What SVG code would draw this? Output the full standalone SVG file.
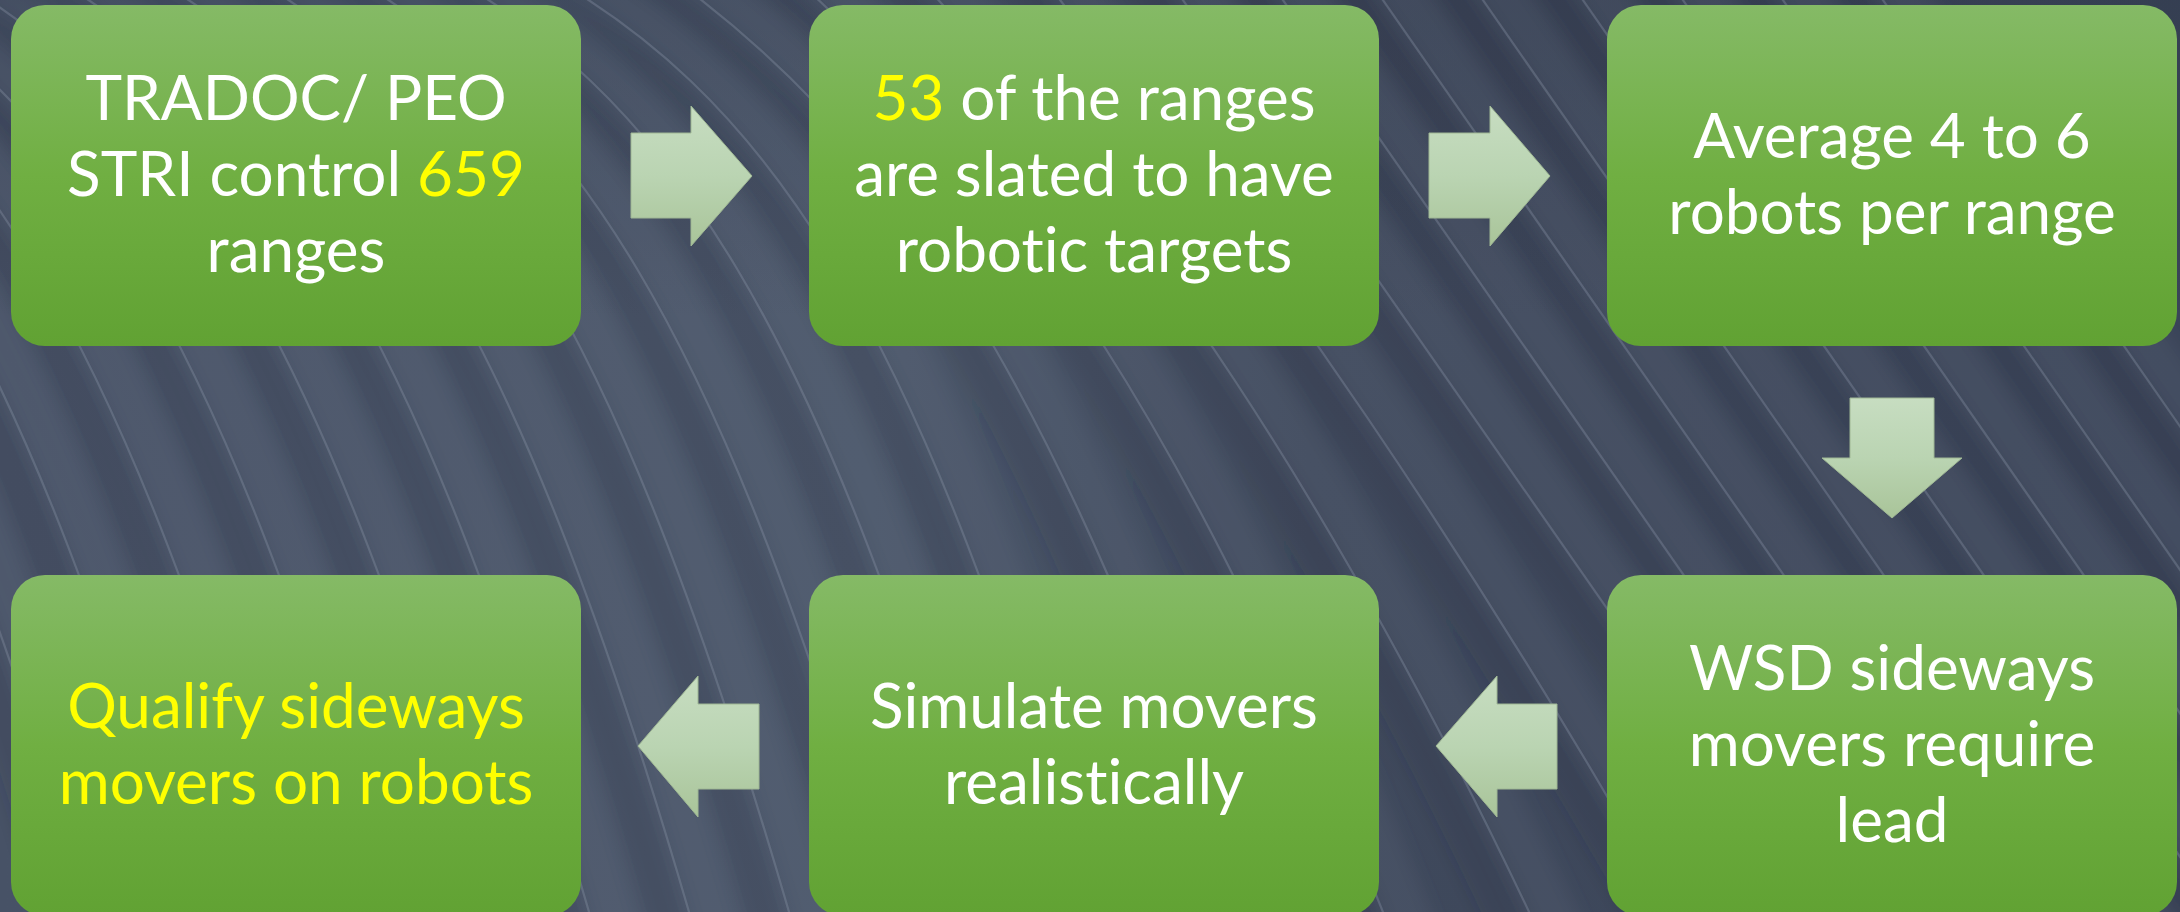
<svg xmlns="http://www.w3.org/2000/svg" xmlns:xlink="http://www.w3.org/1999/xlink" width="2180" height="912" viewBox="0 0 2180 912">
  <style>
    .box { fill: url(#boxFill); }
    .arrow { fill: url(#arrowFill); stroke: #9fb794; stroke-width: 1; }
    .label { font-family: Lato, "Open Sans", "Liberation Sans", sans-serif; font-size: 62px; fill: #ffffff; text-anchor: middle; font-variant-ligatures: none; font-feature-settings: "liga" 0, "clig" 0; }
    .hi { fill: #ffff00; }
    .streak { fill: none; stroke: #8591a4; stroke-width: 2.2; stroke-opacity: 0.38; }
    .band { fill: none; stroke: #6d7a8e; stroke-width: 44; stroke-opacity: 0.16; }
    .shade { fill: none; stroke: #222b3c; stroke-width: 40; stroke-opacity: 0.16; }
  </style>
  <defs>
    <linearGradient id="bgFill" x1="0" y1="0" x2="1" y2="0">
      <stop offset="0" stop-color="#475266"/>
      <stop offset="0.4" stop-color="#4b576a"/>
      <stop offset="0.6" stop-color="#3f495c"/>
      <stop offset="1" stop-color="#3a4458"/>
    </linearGradient>
    <linearGradient id="topDark" x1="0" y1="0" x2="0" y2="1">
      <stop offset="0" stop-color="#2c3547" stop-opacity="0.35"/>
      <stop offset="0.35" stop-color="#2c3547" stop-opacity="0"/>
    </linearGradient>
    <linearGradient id="boxFill" x1="0" y1="0" x2="0" y2="1">
      <stop offset="0" stop-color="#85ba66"/>
      <stop offset="0.5" stop-color="#70af42"/>
      <stop offset="1" stop-color="#61a233"/>
    </linearGradient>
    <linearGradient id="arrowFill" x1="0" y1="0" x2="0" y2="1">
      <stop offset="0" stop-color="#c7ddc1"/>
      <stop offset="0.5" stop-color="#bad4b2"/>
      <stop offset="1" stop-color="#a9c499"/>
    </linearGradient>
    <filter id="soft" x="-10%" y="-10%" width="120%" height="120%">
      <feGaussianBlur stdDeviation="9"/>
    </filter>
    <!-- sweeping background curves -->
    <path id="c0" d="M-480,-40 C-230,90 -80,320 100,950"/>
    <path id="c1" d="M-380,-40 C-130,90 20,320 200,950"/>
    <path id="c2" d="M-280,-40 C-30,90 120,320 300,950"/>
    <path id="c3" d="M-180,-40 C70,90 220,320 400,950"/>
    <path id="c4" d="M-80,-40 C170,90 320,320 500,950"/>
    <path id="c5" d="M20,-40 C270,90 420,320 600,950"/>
    <path id="c6" d="M120,-40 C370,90 520,320 700,950"/>
    <path id="c7" d="M220,-40 C470,90 620,320 800,950"/>
    <path id="c8" d="M320,-40 C570,90 720,320 900,950"/>
    <path id="c9" d="M420,-40 C670,90 820,320 1000,950"/>
    <path id="c10" d="M520,-40 C770,90 920,320 1100,950"/>
    <path id="c11" d="M647,-40 C893,130 1059,380 1249,950"/>
    <path id="c12" d="M774,-40 C1016,170 1198,440 1398,950"/>
    <path id="c13" d="M901,-40 C1139,210 1337,500 1547,950"/>
    <path id="c14" d="M1028,-40 C1262,250 1476,560 1696,950"/>
    <path id="c15" d="M1155,-40 C1385,290 1615,620 1845,950"/>
    <path id="c16" d="M1255,-40 C1485,290 1715,620 1945,950"/>
    <path id="c17" d="M1355,-40 C1585,290 1815,620 2045,950"/>
    <path id="c18" d="M1455,-40 C1685,290 1915,620 2145,950"/>
    <path id="c19" d="M1555,-40 C1785,290 2015,620 2245,950"/>
    <path id="c20" d="M1655,-40 C1885,290 2115,620 2345,950"/>
    <path id="c21" d="M1755,-40 C1985,290 2215,620 2445,950"/>
    <path id="c22" d="M1855,-40 C2085,290 2315,620 2545,950"/>
  </defs>

  <!-- backdrop -->
  <g id="background">
    <rect x="0" y="0" width="2180" height="912" fill="url(#bgFill)"/>
    <rect x="0" y="0" width="2180" height="912" fill="url(#topDark)"/>
    <g filter="url(#soft)">
      <g transform="translate(-26,0)">
        <use href="#c0" class="shade"/><use href="#c1" class="shade"/><use href="#c2" class="shade"/>
        <use href="#c3" class="shade"/><use href="#c4" class="shade"/><use href="#c5" class="shade"/>
        <use href="#c6" class="shade"/><use href="#c7" class="shade"/><use href="#c8" class="shade"/>
        <use href="#c9" class="shade"/><use href="#c10" class="shade"/><use href="#c11" class="shade"/>
        <use href="#c12" class="shade"/><use href="#c13" class="shade"/><use href="#c14" class="shade"/>
        <use href="#c15" class="shade"/><use href="#c16" class="shade"/><use href="#c17" class="shade"/>
        <use href="#c18" class="shade"/><use href="#c19" class="shade"/><use href="#c20" class="shade"/>
        <use href="#c21" class="shade"/><use href="#c22" class="shade"/>
      </g>
      <g transform="translate(24,0)">
        <use href="#c0" class="band"/><use href="#c1" class="band"/><use href="#c2" class="band"/>
        <use href="#c3" class="band"/><use href="#c4" class="band"/><use href="#c5" class="band"/>
        <use href="#c6" class="band"/><use href="#c7" class="band"/><use href="#c8" class="band"/>
        <use href="#c9" class="band"/><use href="#c10" class="band"/><use href="#c11" class="band"/>
        <use href="#c12" class="band"/><use href="#c13" class="band"/><use href="#c14" class="band"/>
        <use href="#c15" class="band"/><use href="#c16" class="band"/><use href="#c17" class="band"/>
        <use href="#c18" class="band"/><use href="#c19" class="band"/><use href="#c20" class="band"/>
        <use href="#c21" class="band"/><use href="#c22" class="band"/>
      </g>
    </g>
    <g>
      <use href="#c0" class="streak"/><use href="#c1" class="streak"/><use href="#c2" class="streak"/>
      <use href="#c3" class="streak"/><use href="#c4" class="streak"/><use href="#c5" class="streak"/>
      <use href="#c6" class="streak"/><use href="#c7" class="streak"/><use href="#c8" class="streak"/>
      <use href="#c9" class="streak"/><use href="#c10" class="streak"/><use href="#c11" class="streak"/>
      <use href="#c12" class="streak"/><use href="#c13" class="streak"/><use href="#c14" class="streak"/>
      <use href="#c15" class="streak"/><use href="#c16" class="streak"/><use href="#c17" class="streak"/>
      <use href="#c18" class="streak"/><use href="#c19" class="streak"/><use href="#c20" class="streak"/>
      <use href="#c21" class="streak"/><use href="#c22" class="streak"/>
    </g>
  </g>

  <!-- block arrows between steps -->
  <g id="connectors">
    <polygon class="arrow" points="631,133 691,133 691,106 752,176 691,246 691,218 631,218"/>
    <polygon class="arrow" points="1429,133 1490,133 1490,106 1550,176 1490,246 1490,218 1429,218"/>
    <polygon class="arrow" points="1850,398 1934,398 1934,458 1962,458 1892,518 1822,458 1850,458"/>
    <polygon class="arrow" points="1557,704 1497,704 1497,676 1436,746 1497,817 1497,789 1557,789"/>
    <polygon class="arrow" points="759,704 698,704 698,676 638,746 698,817 698,789 759,789"/>
  </g>

  <!-- top row -->
  <g id="step1">
    <rect class="box" x="11" y="5" width="570" height="341" rx="34"/>
    <text class="label" x="296" y="120">TRADOC/ PEO</text>
    <text class="label" x="296" y="196">STRI control <tspan class="hi">659</tspan></text>
    <text class="label" x="296" y="272">ranges</text>
  </g>
  <g id="step2">
    <rect class="box" x="809" y="5" width="570" height="341" rx="34"/>
    <text class="label" x="1094" y="120"><tspan class="hi">53</tspan> of the ranges</text>
    <text class="label" x="1094" y="196">are slated to have</text>
    <text class="label" x="1094" y="272">robotic targets</text>
  </g>
  <g id="step3">
    <rect class="box" x="1607" y="5" width="570" height="341" rx="34"/>
    <text class="label" x="1892" y="158">Average 4 to 6</text>
    <text class="label" x="1892" y="234">robots per range</text>
  </g>

  <!-- bottom row -->
  <g id="step4">
    <rect class="box" x="1607" y="575" width="570" height="341" rx="34"/>
    <text class="label" x="1892" y="690">WSD sideways</text>
    <text class="label" x="1892" y="766">movers require</text>
    <text class="label" x="1892" y="842">lead</text>
  </g>
  <g id="step5">
    <rect class="box" x="809" y="575" width="570" height="341" rx="34"/>
    <text class="label" x="1094" y="728">Simulate movers</text>
    <text class="label" x="1094" y="804">realistically</text>
  </g>
  <g id="step6">
    <rect class="box" x="11" y="575" width="570" height="341" rx="34"/>
    <text class="label hi" x="296" y="728">Qualify sideways</text>
    <text class="label hi" x="296" y="804">movers on robots</text>
  </g>
</svg>
